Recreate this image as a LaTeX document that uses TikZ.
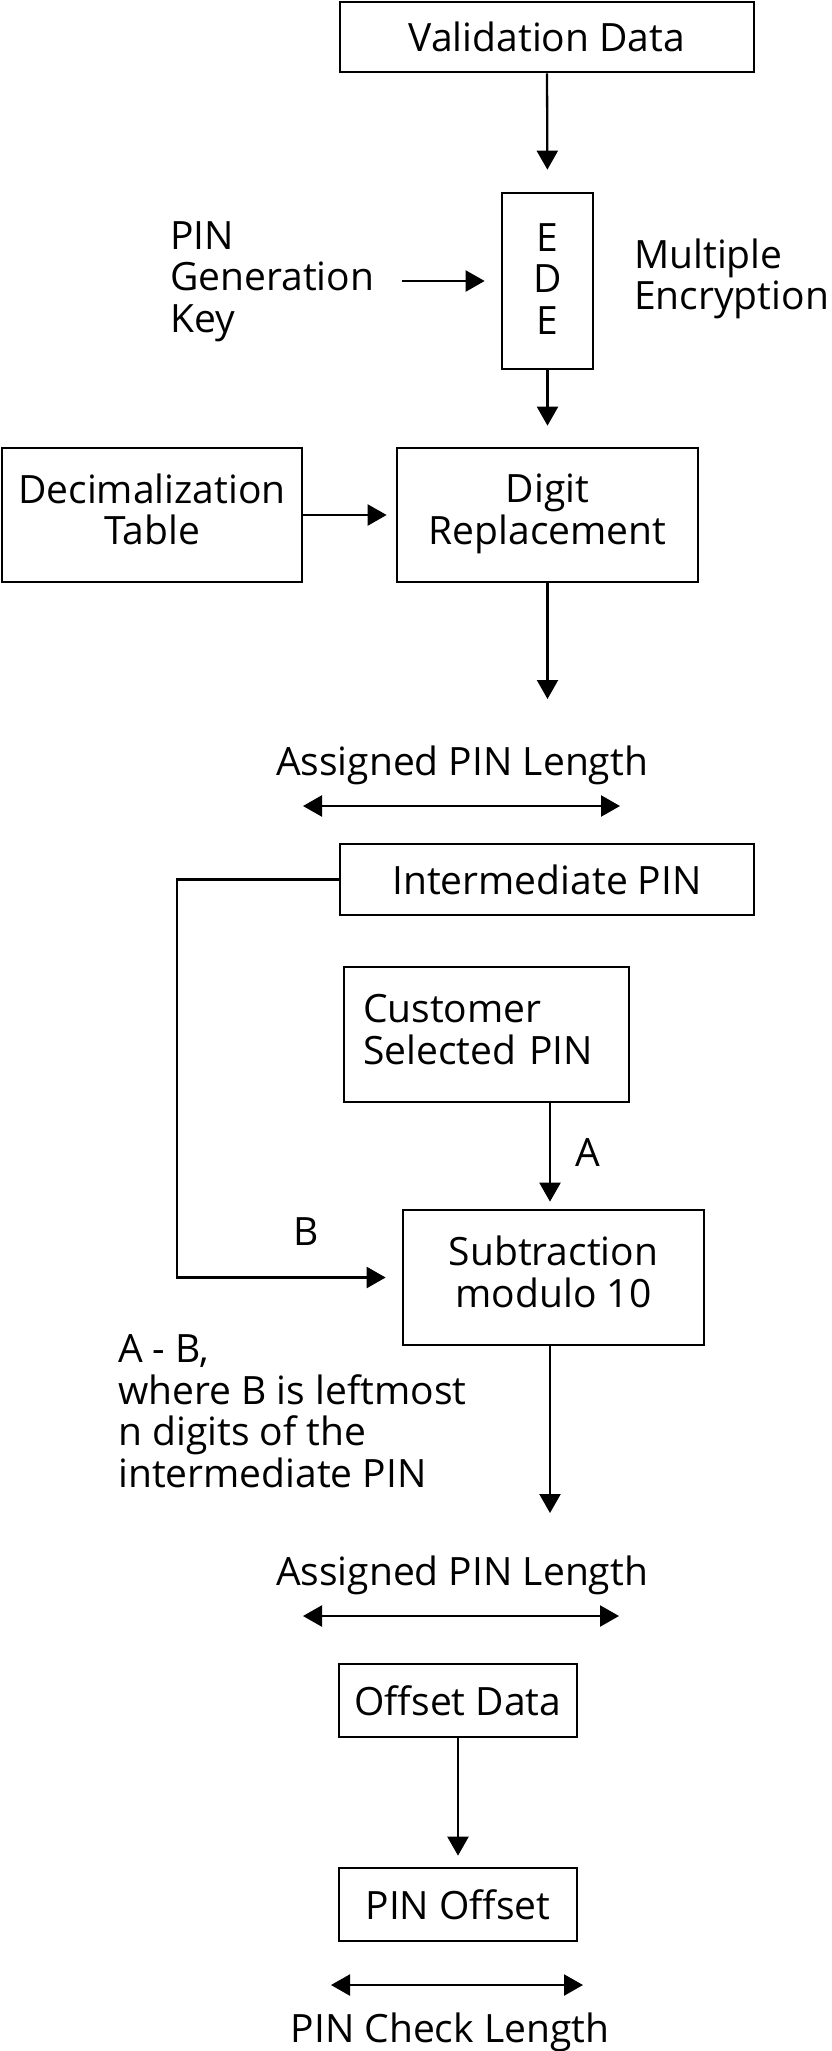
\documentclass[tikz,border=0pt]{standalone}
\usepackage{fontspec}
\setmainfont{Open Sans}
\usetikzlibrary{arrows.meta}
\begin{document}
\begin{tikzpicture}[x=1pt,y=1pt,
  every node/.style={font=\fontsize{39}{41.5}\selectfont, inner sep=0pt},
  box/.style={draw, line width=2.7pt, rectangle, align=center},
  twoline/.style={text depth=12pt},
  arr/.style={line width=2.3pt, -{Triangle[length=19pt,width=21pt]}},
  dbl/.style={line width=2.3pt, {Triangle[length=19pt,width=21pt]}-{Triangle[length=19pt,width=21pt]}},
  lbl/.style={align=left}]
\useasboundingbox (0,0) rectangle (831,-2051);

% boxes
\node[box, minimum width=414pt, minimum height=70pt] (vd) at (547,-37) {Validation Data};
\node[box, minimum width=91pt, minimum height=176pt, text depth=4.8pt] (ede) at (547.5,-281) {E\\D\\E};
\node[box, twoline, minimum width=300pt, minimum height=134pt] (dt) at (152,-515) {Decimalization\\Table};
\node[box, twoline, minimum width=301pt, minimum height=134pt] (dr) at (547.5,-515) {Digit\\Replacement};
\node[box, minimum width=414pt, minimum height=71pt] (ip) at (547,-879.5) {Intermediate PIN};
\node[box, minimum width=285pt, minimum height=135pt, text width=247pt, align=left, text depth=51.5pt] (csp) at (486.5,-1034.5) {Customer\\Selected PIN};
\node[box, twoline, minimum width=301pt, minimum height=135pt] (sub) at (553.5,-1277.5) {Subtraction\\modulo 10};
\node[box, minimum width=238pt, minimum height=73pt] (od) at (458,-1700.5) {Offset Data};
\node[box, minimum width=238pt, minimum height=73pt] (po) at (458,-1904.5) {PIN Offset};

% free labels
\node[lbl, anchor=west] (pk) at (170,-281.3) {PIN\\Generation\\Key};
\node[lbl, anchor=west] (me) at (634,-278.9) {Multiple\\Encryption};
\node[anchor=base] (apl1) at (462,-775) {Assigned PIN Length};
\node[anchor=base] (la) at (588,-1166) {A};
\node[anchor=base] (lb) at (306,-1245) {B};
\node[lbl, anchor=west] (ab) at (118,-1411.4) {A - B,\\where B is leftmost\\n digits of the\\intermediate PIN};
\node[anchor=base] (apl2) at (462,-1585) {Assigned PIN Length};
\node[anchor=base] (pcl) at (450,-2042) {PIN Check Length};

% free coordinates
\coordinate (e1) at (547.5,-699);
\coordinate (e2) at (550,-1513);
\coordinate (d1l) at (303,-806);
\coordinate (d1r) at (620,-806);
\coordinate (d2l) at (303,-1616);
\coordinate (d2r) at (619,-1616);
\coordinate (d3l) at (331,-1985);
\coordinate (d3r) at (583,-1985);

% connectors
\draw[arr, shorten >=22pt] (vd.south) -- (ede.north);
\draw[arr, shorten <=28pt, shorten >=16pt] (pk.east |- ede.west) -- (ede.west);
\draw[arr, shorten >=21pt] (ede.south) -- (dr.north);
\draw[arr, shorten >=9pt] (dt.east) -- (dr.west);
\draw[arr] (dr.south) -- (e1);
\draw[dbl] (d1l) -- (d1r);
\draw[arr, shorten >=16pt] (ip.west) -- ++(-162,0) |- (sub.west);
\draw[arr, shorten >=7pt] ([xshift=-3.5pt]sub.north |- csp.south) -- ([xshift=-3.5pt]sub.north);
\draw[arr] (e2 |- sub.south) -- (e2);
\draw[dbl] (d2l) -- (d2r);
\draw[arr, shorten >=11pt] (od.south) -- (po.north);
\draw[dbl] (d3l) -- (d3r);
\end{tikzpicture}
\end{document}
